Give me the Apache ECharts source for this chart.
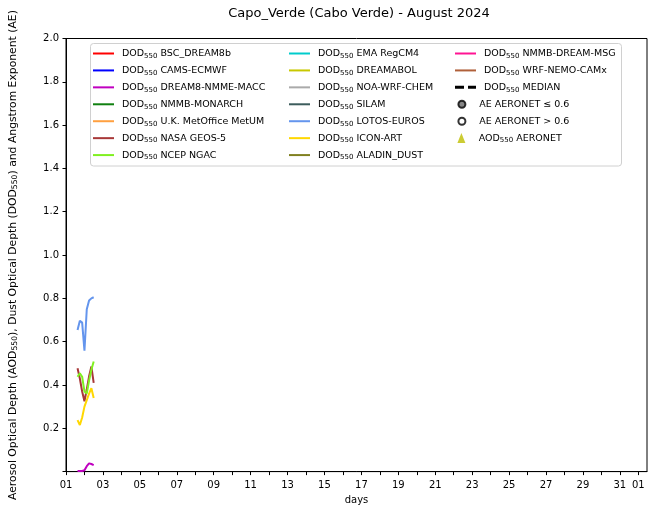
<!DOCTYPE html>
<html>
<head>
<meta charset="utf-8">
<script src="https://cdn.jsdelivr.net/npm/echarts@6/dist/echarts.min.js"></script>
<style>
  html, body { margin: 0; padding: 0; background: #fff; }
  #chart { width: 650px; height: 507px; }
</style>
</head>
<body>
<div id="chart"></div>
<script>
// Forecast valid times, hours after 1 August 2024 00 UTC
const hours = [15, 18, 21, 24, 27, 30, 33, 36];

// Dust optical depth at 550 nm per model
const dream8NmmeMacc = [0.003, 0.003, 0.003, 0.006, 0.025, 0.038, 0.035, 0.030];
const nasaGeos5      = [0.477, 0.430, 0.370, 0.325, 0.380, 0.440, 0.485, 0.410];
const ncepNgac       = [0.438, 0.454, 0.438, 0.370, 0.360, 0.420, 0.470, 0.508];
const lotosEuros     = [0.654, 0.697, 0.688, 0.558, 0.750, 0.790, 0.800, 0.805];
const iconArt        = [0.238, 0.215, 0.250, 0.300, 0.330, 0.360, 0.385, 0.340];

// x-axis: day offsets from 1 August and the label shown there
const tickDays  = [0, 2, 4, 6, 8, 10, 12, 14, 16, 18, 20, 22, 24, 26, 28, 30, 31];
const tickTexts = ['01', '03', '05', '07', '09', '11', '13', '15', '17', '19', '21', '23', '25', '27', '29', '31', '01'];
const minorDays = [0, 1, 2, 3, 4, 5, 6, 7, 8, 9, 10, 11, 12, 13, 14, 15, 16, 17, 18, 19, 20, 21, 22, 23, 24, 25, 26, 27, 28, 29, 30, 31];

// y-axis tick labels
const yTicks = [0.2, 0.4, 0.6, 0.8, 1.0, 1.2, 1.4, 1.6, 1.8, 2.0];

// Model names and line colours, in legend order
const modelNames = ['BSC_DREAM8b', 'CAMS-ECMWF', 'DREAM8-NMME-MACC', 'NMMB-MONARCH', 'U.K. MetOffice MetUM',
  'NASA GEOS-5', 'NCEP NGAC', 'EMA RegCM4', 'DREAMABOL', 'NOA-WRF-CHEM', 'SILAM', 'LOTOS-EUROS',
  'ICON-ART', 'ALADIN_DUST', 'NMMB-DREAM-MSG', 'WRF-NEMO-CAMx'];
const modelColors = ['#ff0000', '#0000ff', '#c000c0', '#108010', '#ffa040',
  '#a83838', '#80f020', '#00cccc', '#c8c800', '#aaaaaa', '#3c5c5c', '#6495ed',
  '#ffd700', '#808020', '#ff1493', '#b0603a'];
const modelValues = {
  'DREAM8-NMME-MACC': dream8NmmeMacc,
  'NASA GEOS-5': nasaGeos5,
  'NCEP NGAC': ncepNgac,
  'LOTOS-EUROS': lotosEuros,
  'ICON-ART': iconArt
};

const dodName = m => 'DOD550 ' + m;
const FONT = 'DejaVu Sans';

// legend glyphs: solid stroke, dashed stroke, triangle
const LINE_ICON = 'path://M0,0L21,0L21,2L0,2Z';
const DASH_ICON = 'path://M0,0L9,0L9,3L0,3Z M13,0L21,0L21,3L13,3Z';
const TRI_ICON = 'path://M4,0L8,10L0,10Z';

const series = modelNames.map((m, i) => {
  const vals = modelValues[m] || [];
  return {
    name: dodName(m),
    type: 'line',
    symbol: 'none',
    color: modelColors[i],
    lineStyle: { width: 2, color: modelColors[i] },
    data: vals.map((v, k) => [hours[k] / 24, v])
  };
});
series.push({
  name: 'DOD550 MEDIAN', type: 'line', symbol: 'none', color: '#000',
  lineStyle: { width: 2.5, color: '#000', type: [6, 4] }, data: []
});
series.push({
  name: 'AE AERONET ≤ 0.6', type: 'scatter', symbol: 'circle', symbolSize: 7,
  itemStyle: { color: '#666', borderColor: '#000', borderWidth: 1 }, data: []
});
series.push({
  name: 'AE AERONET > 0.6', type: 'scatter', symbol: 'circle', symbolSize: 7,
  itemStyle: { color: '#fff', borderColor: '#000', borderWidth: 1 }, data: []
});
series.push({
  name: 'AOD550 AERONET', type: 'scatter', symbol: 'triangle', symbolSize: 10,
  itemStyle: { color: '#bfbf00' }, data: []
});

const legendText = {
  fontFamily: FONT, fontSize: 9.5, color: '#000', lineHeight: 12, padding: [0, 0, 0, 3],
  rich: { s: { fontFamily: FONT, fontSize: 7, lineHeight: 12, verticalAlign: 'bottom', padding: [3, 0, 0, 0] } }
};
const legendFmt = n => n.replace('550', '{s|550}');
const rowGap = 16.93 - 12;
const baseLegend = {
  orient: 'vertical', padding: 0, itemGap: rowGap, itemWidth: 21, itemHeight: 10,
  selectedMode: false, textStyle: legendText, formatter: legendFmt
};
const lineItems = names => names.map(n => ({ name: n, icon: LINE_ICON }));

const option = {
  animation: false,
  backgroundColor: '#fff',
  title: {
    text: 'Capo_Verde (Cabo Verde) - August 2024',
    left: 354, top: 2, textAlign: 'center',
    textStyle: { fontFamily: FONT, fontSize: 13, fontWeight: 'normal', color: '#000' }
  },
  grid: {
    left: 66, right: 3, top: 38.5, bottom: 35.4, containLabel: false, outerBoundsMode: 'none',
    show: true, borderColor: '#000', borderWidth: 1
  },
  graphic: [{
    type: 'rect', z: 1,
    shape: { x: 90.5, y: 43.5, width: 531, height: 122.5, r: 3 },
    style: { fill: 'rgba(255,255,255,0.8)', stroke: '#d0d0d0', lineWidth: 1 }
  }],
  legend: [
    Object.assign({}, baseLegend, { left: 93, top: 47.5, data: lineItems(modelNames.slice(0, 7).map(dodName)) }),
    Object.assign({}, baseLegend, { left: 289, top: 47.5, data: lineItems(modelNames.slice(7, 14).map(dodName)) }),
    Object.assign({}, baseLegend, {
      left: 455, top: 47.5,
      data: lineItems([dodName('NMMB-DREAM-MSG'), dodName('WRF-NEMO-CAMx')]).concat([{ name: 'DOD550 MEDIAN', icon: DASH_ICON }])
    }),
    Object.assign({}, baseLegend, {
      left: 457.4, top: 98.3, itemWidth: 18.6, itemHeight: 7,
      data: [{ name: 'AE AERONET ≤ 0.6', icon: 'circle' }, { name: 'AE AERONET > 0.6', icon: 'circle' }]
    }),
    Object.assign({}, baseLegend, {
      left: 457.4, top: 132.1, itemWidth: 18.6, itemHeight: 10,
      data: [{ name: 'AOD550 AERONET', icon: TRI_ICON }]
    })
  ],
  xAxis: {
    type: 'value', min: 0, max: 31.47,
    name: 'days', nameLocation: 'middle', nameGap: 23,
    nameTextStyle: { fontFamily: FONT, fontSize: 10, color: '#000' },
    axisLine: { lineStyle: { color: '#000', width: 1 } },
    axisTick: { show: true, length: 3.5, lineStyle: { color: '#000' }, customValues: minorDays },
    axisLabel: {
      fontFamily: FONT, fontSize: 10, color: '#000', margin: 9,
      customValues: tickDays,
      formatter: v => { const i = tickDays.indexOf(Math.round(v)); return i >= 0 ? tickTexts[i] : ''; }
    },
    splitLine: { show: false }
  },
  yAxis: {
    type: 'value', min: 0, max: 2, interval: 0.2,
    name: 'Aerosol Optical Depth (AOD{s|550}), Dust Optical Depth (DOD{s|550}) and Angstrom Exponent (AE)',
    nameLocation: 'middle', nameGap: 47,
    nameTextStyle: {
      fontFamily: FONT, fontSize: 10.8, color: '#000',
      rich: { s: { fontFamily: FONT, fontSize: 7.7, verticalAlign: 'bottom', padding: [3, 0, 0, 0] } }
    },
    axisLine: { show: true, lineStyle: { color: '#000', width: 1 } },
    axisTick: { show: true, length: 3.5, lineStyle: { color: '#000' } },
    axisLabel: {
      fontFamily: FONT, fontSize: 10, color: '#000', margin: 7,
      formatter: v => { const t = yTicks.find(y => Math.abs(y - v) < 1e-6); return t === undefined ? '' : t.toFixed(1); }
    },
    splitLine: { show: false }
  },
  series: series
};

const chart = echarts.init(document.getElementById('chart'), null, { renderer: 'canvas' });
chart.setOption(option);
</script>
</body>
</html>
